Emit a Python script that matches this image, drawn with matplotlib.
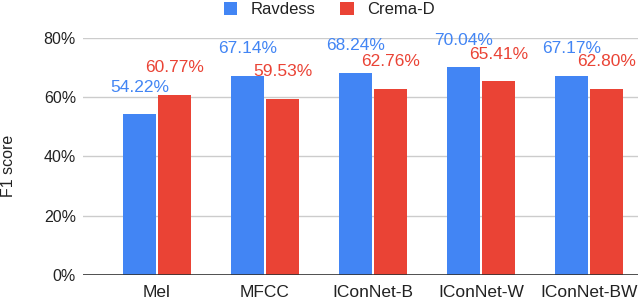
import matplotlib.pyplot as plt
import numpy as np

plt.rcParams['font.family'] = ['Liberation Sans', 'DejaVu Sans']

categories = ['Mel', 'MFCC', 'IConNet-B', 'IConNet-W', 'IConNet-BW']
ravdess = [54.22, 67.14, 68.24, 70.04, 67.17]
crema = [60.77, 59.53, 62.76, 65.41, 62.80]
yticks = [0, 20, 40, 60, 80]

blue = '#4285f4'
red = '#ea4335'

fig = plt.figure(figsize=(6.38, 3.02), dpi=100)
ax = fig.add_axes([0.130, 0.0894, 0.870, 0.785])

x = np.arange(len(categories))
w = 0.305
b1 = ax.bar(x - w/2 - 0.01, ravdess, w, color=blue, label='Ravdess', zorder=3)
b2 = ax.bar(x + w/2 + 0.01, crema, w, color=red, label='Crema-D', zorder=3)

for bars, vals, c in [(b1, ravdess, blue), (b2, crema, red)]:
    for r, v in zip(bars, vals):
        ax.annotate('%.2f%%' % v, (r.get_x() + r.get_width()/2, v),
                    xytext=(0, 19.5), textcoords='offset points',
                    ha='center', va='center', color=c, fontsize=12.5,
                    annotation_clip=False, zorder=4)

ax.set_xlim(-0.685, 4.454)
ax.set_ylim(0, 80)
ax.set_yticks(yticks)
ax.set_yticklabels(['%d%%' % t for t in yticks])
ax.set_xticks(x)
ax.set_xticklabels(categories, fontsize=12.5)
ax.grid(axis='y', color='#cccccc', linewidth=1, zorder=0)
ax.axhline(0, color='#333333', linewidth=1.2, zorder=5)
for s in ax.spines.values():
    s.set_visible(False)
ax.tick_params(axis='both', length=0, colors='#222222')
ax.tick_params(axis='y', pad=5, labelsize=11.5)
ax.tick_params(axis='x', pad=7)
ax.set_ylabel('F1 score', fontsize=11.5, color='#222222', labelpad=20)
ax.yaxis.label.set_y(0.46)

fig.legend(loc='center', bbox_to_anchor=(0.516, 0.968), ncol=2, frameon=False,
           fontsize=12, handlelength=0.8, handleheight=0.8, columnspacing=1.5,
           handletextpad=0.8, labelcolor='#222222')

fig.savefig('out.png', dpi=100)
